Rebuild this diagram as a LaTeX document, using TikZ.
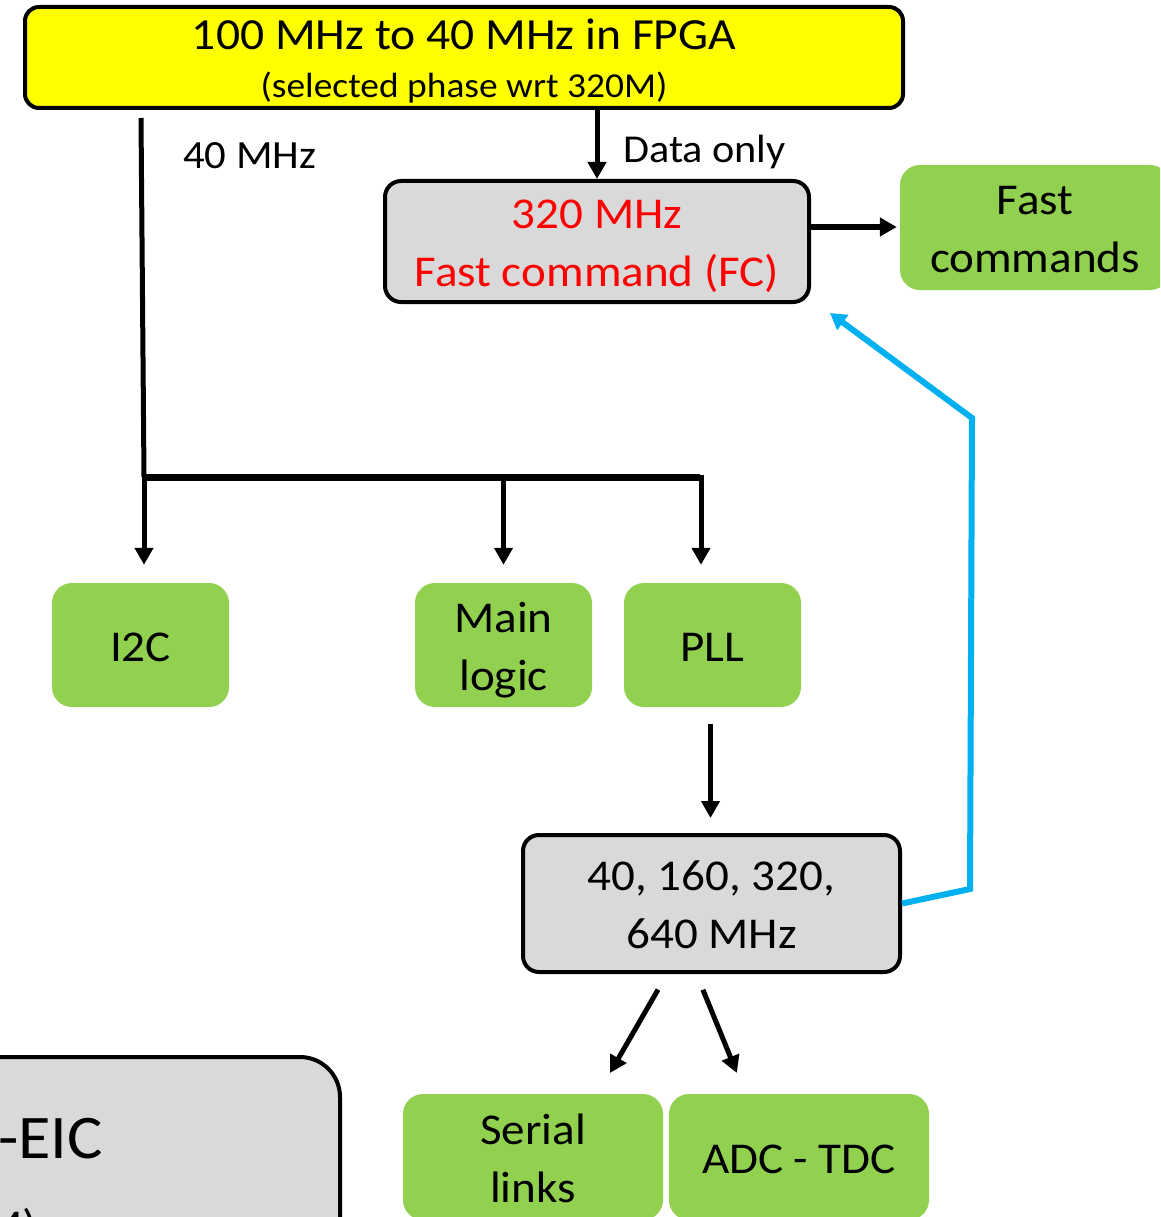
\documentclass[tikz,border=0pt]{standalone}
\usepackage{fontspec}
\setmainfont{Carlito}[FakeStretch=1.07]
\usetikzlibrary{arrows.meta}
\definecolor{boxgreen}{HTML}{92D050}
\definecolor{boxgrey}{HTML}{D9D9D9}
\definecolor{fpgayellow}{HTML}{FFFF00}
\definecolor{fbblue}{HTML}{00B0F0}
\definecolor{fcred}{HTML}{FF0000}
% strut giving every text line the same height and depth
\newcommand\bstrut{\rule[-13pt]{0pt}{58pt}}
\begin{document}
\begin{tikzpicture}[x=1pt,y=-1pt,
  box/.style={inner sep=0pt, align=center, font=\fontsize{44}{58}\selectfont},
  greenbox/.style={box, fill=boxgreen, rounded corners=20pt},
  greybox/.style={box, fill=boxgrey, draw=black, line width=4pt, rounded corners=16pt},
  lbl/.style={inner sep=0pt, anchor=base west},
  arr/.style={line width=5pt, -{Triangle[length=17pt,width=18pt]}},
  bus/.style={line width=7pt},
  fb/.style={draw=fbblue, line width=6pt, -{Triangle[length=16pt,width=18pt]}}]
\useasboundingbox (0,0) rectangle (1160,1217);
\clip (0,0) rectangle (1160,1217);

% clock source in the FPGA
\node[draw, line width=4pt, fill=fpgayellow, rounded corners=14pt, inner sep=0pt,
      minimum width=878pt, minimum height=101pt] (fpga) at (464,57.5) {};
\node[inner sep=0pt, anchor=base, font=\fontsize{44.5}{50}\selectfont] (fpgaTitle) at (464,50) {100 MHz to 40 MHz in FPGA};
\node[inner sep=0pt, anchor=base, font=\fontsize{35}{40}\selectfont] (fpgaSub) at (464,98) {(selected phase wrt 320M)};

% fast command path
\node[greybox, minimum width=424pt, minimum height=121pt, text=fcred] (fc) at (597,241.5)
  {\bstrut 320 MHz\\Fast command (FC)\bstrut};
\node[greenbox, minimum width=270pt, minimum height=125pt] (fcmd) at (1035,227.5)
  {\bstrut Fast\\commands\bstrut};

% blocks fed by the 40 MHz clock
\node[greenbox, minimum width=177pt, minimum height=124pt] (i2c) at (140.5,645) {\bstrut I2C\bstrut};
\node[greenbox, minimum width=177pt, minimum height=124pt] (logic) at (503.5,645) {\bstrut Main\\logic\bstrut};
\node[greenbox, minimum width=177pt, minimum height=124pt] (pll) at (712.5,645) {\bstrut PLL\bstrut};

% PLL outputs
\node[greybox, minimum width=377pt, minimum height=137pt] (clk) at (711.5,903.5)
  {\bstrut 40, 160, 320,\\640 MHz\bstrut};
\node[greenbox, minimum width=260pt, minimum height=126pt] (serial) at (533,1157)
  {\bstrut Serial\\links\bstrut};
\node[greenbox, minimum width=260pt, minimum height=126pt] (adc) at (799,1157)
  {\bstrut ADC - TDC\bstrut};

% chip block at the lower left
\node[greybox, rounded corners=40pt, minimum width=460pt, minimum height=300pt] (chip) at (110,1207) {};
\node[inner sep=0pt, anchor=base east, font=\fontsize{62}{70}\selectfont] (chipName) at (103,1158) {E-EIC};
\node[inner sep=0pt, anchor=base east, font=\fontsize{44}{50}\selectfont] (chipSub) at (37,1240) {M)};

% labels
\node[lbl, font=\fontsize{40}{46}\selectfont] (l40) at (183,169) {40 MHz};
\node[lbl, font=\fontsize{39.5}{46}\selectfont] (ldata) at (623,163) {Data only};

% 40 MHz distribution
\coordinate (trunkTop) at (141,118);
\coordinate (split) at (144,477);
\coordinate (busEnd) at (701,477);
\draw[line width=5pt] (trunkTop) -- (split);
\draw[bus] ([xshift=-2.5pt]split) -- ([xshift=-1pt]busEnd);
\draw[arr, shorten >=18pt] (split) -- (split |- i2c.north);
\draw[arr, shorten >=18pt] (split -| logic.north) -- (logic.north);
\draw[arr, shorten >=18pt] ([yshift=2pt]busEnd) -- (busEnd |- pll.north);

% data path to the fast command block
\draw[arr] (fpga.south -| fc.north) -- (fc.north);
\draw[arr, line width=6pt, shorten >=3pt] ([yshift=14.5pt]fc.east) -- ([yshift=14.5pt]fc.east -| fcmd.west);

% PLL clocks
\draw[arr, shorten <=17pt, shorten >=15pt] ([xshift=-2pt]pll.south) -- ([xshift=-2pt]pll.south |- clk.north);
\draw[arr, shorten <=18pt, shorten >=24pt] ([xshift=-44.5pt]clk.south) -- ([xshift=65pt]serial.north);
\draw[arr, shorten <=17pt, shorten >=22.6pt] ([xshift=-15pt]clk.south) -- ([xshift=-53.6pt]adc.north);

% 320 MHz feedback to the fast command block
\coordinate (fbA) at (970,889);
\coordinate (fbB) at (972,418);
\draw[fb] (clk.east) -- (fbA) -- (fbB) -- ([shift={(19pt,-9pt)}]fc.south east);
\end{tikzpicture}
\end{document}
